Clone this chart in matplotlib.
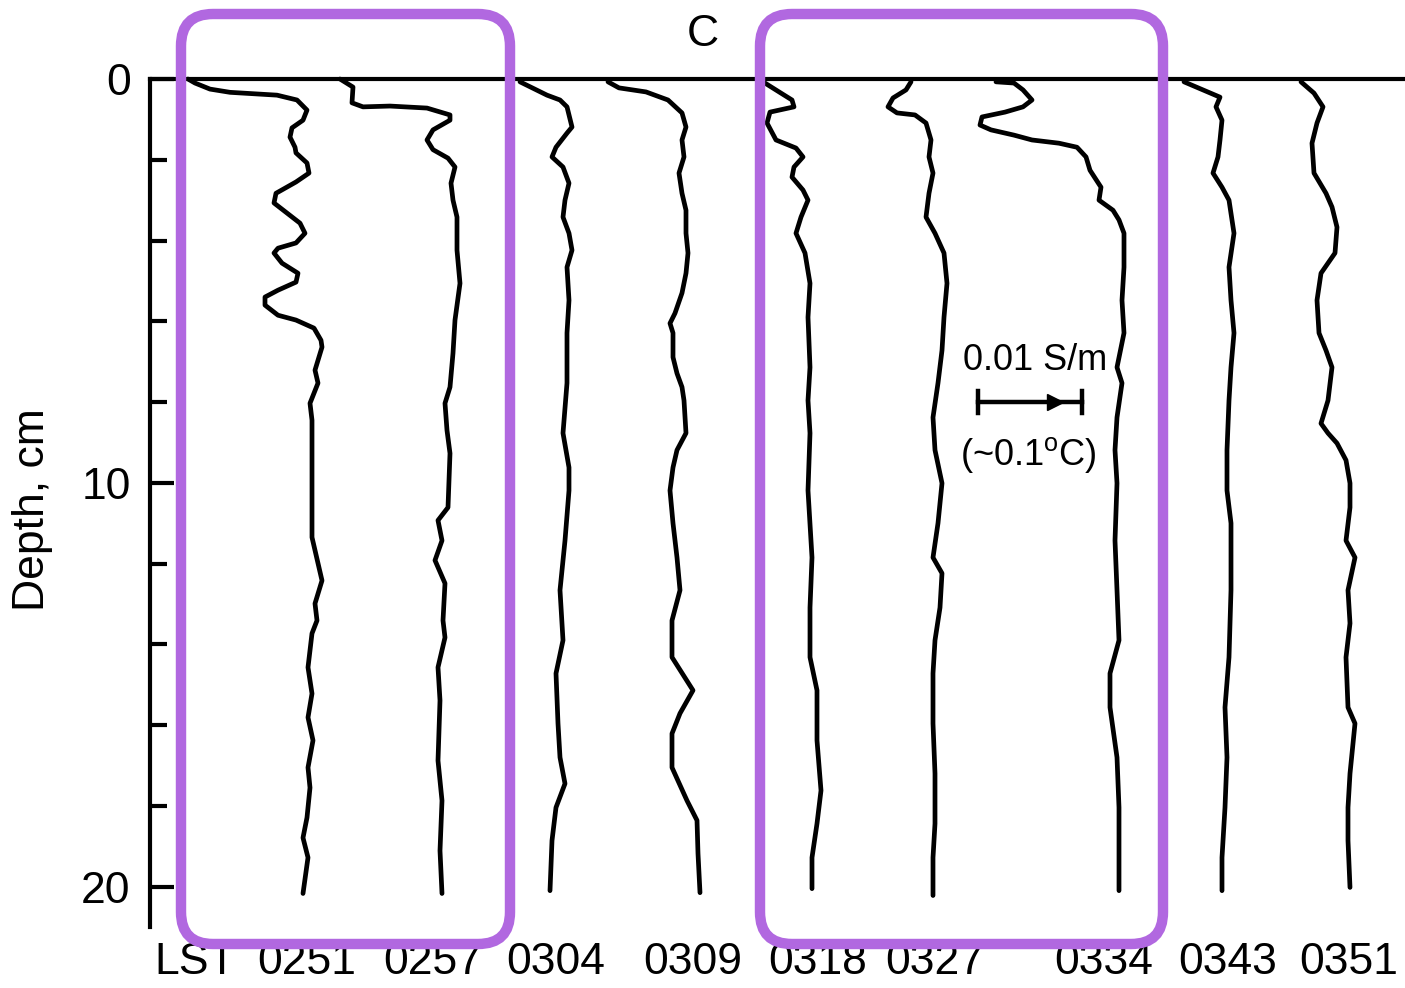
import matplotlib
matplotlib.use("Agg")
import matplotlib.pyplot as plt
from matplotlib.patches import FancyBboxPatch
from matplotlib.transforms import IdentityTransform

plt.rcParams['font.family'] = ['Liberation Sans', 'DejaVu Sans']

# ---- data: conductivity profiles (x offset units ~1e-4 S/m * 1.04, depth in cm)
labels = ["LST", "0251", "0257", "0304", "0309", "0318", "0327", "0334", "0343", "0351"]
label_x = [45, 157, 283, 406, 543, 668, 785, 954, 1078, 1199]

d_0251 = [0.0, 0.10, 0.25, 0.33, 0.40, 0.52, 0.77, 1.02, 1.21, 1.44, 1.69, 1.83, 2.08, 2.33, 2.55, 2.83, 3.07, 3.32, 3.57, 3.82,
          4.06, 4.19, 4.31, 4.56, 4.81, 5.03, 5.23, 5.40, 5.60, 5.85, 5.97, 6.17, 6.47, 6.64, 7.21, 7.53, 8.03, 8.45,
          10.51, 11.35, 12.42, 12.99, 13.41, 13.73, 14.57, 15.22, 15.81, 16.38, 17.05, 17.55, 18.29, 18.79, 19.28, 20.17]
c_0251 = [38, 45, 60, 80, 127, 147, 157, 153, 142, 140, 145, 146, 157, 159, 146, 126, 124, 137, 150, 155,
          146, 128, 124, 132, 148, 146, 128, 115, 115, 128, 146, 164, 171, 172, 165, 168, 160, 162,
          162, 162, 172, 165, 167, 162, 158, 162, 158, 163, 158, 160, 157, 153, 158, 153]

d_0257 = [0.0, 0.20, 0.59, 0.69, 0.67, 0.72, 0.89, 1.02, 1.26, 1.51, 1.75, 1.96, 2.18, 2.58, 3.00, 3.42, 4.24, 5.06, 5.97,
          6.79, 7.63, 8.03, 8.70, 9.27, 10.61, 10.93, 11.43, 11.92, 12.49, 13.41, 13.83, 14.57, 15.39, 16.88, 17.87,
          19.11, 20.17]
c_0257 = [190, 203, 202, 213, 240, 277, 300, 300, 283, 277, 283, 298, 305, 301, 303, 307, 307, 310, 305,
          303, 300, 295, 297, 300, 298, 288, 292, 285, 295, 293, 295, 288, 290, 288, 292,
          290, 292]

d_0304 = [0.07, 0.40, 0.52, 0.69, 1.19, 1.34, 1.69, 1.93, 2.18, 2.58, 3.00, 3.42, 3.82, 4.24, 4.66, 5.48, 6.29, 7.53,
          8.77, 9.62, 10.19, 11.43, 12.66, 13.90, 14.72, 15.96, 16.80, 17.45, 18.04, 18.86, 20.10]
c_0304 = [370, 397, 410, 417, 422, 417, 406, 402, 413, 419, 415, 413, 419, 422, 417, 419, 417, 417,
          413, 419, 419, 415, 410, 413, 406, 408, 410, 415, 406, 402, 400]

d_0309 = [0.07, 0.22, 0.32, 0.52, 0.84, 1.19, 1.51, 1.93, 2.33, 2.83, 3.25, 3.82, 4.31, 4.81, 5.30, 5.80, 6.05, 6.29,
          6.89, 7.29, 7.63, 7.96, 8.77, 9.19, 9.62, 10.19, 11.00, 11.85, 12.66, 13.41, 14.32, 15.14, 15.71, 16.21,
          17.05, 17.87, 18.36, 19.18, 20.15]
c_0309 = [458, 469, 496, 518, 532, 536, 532, 534, 529, 532, 536, 536, 538, 536, 532, 525, 520, 523,
          523, 527, 532, 534, 536, 527, 523, 520, 523, 527, 530, 522, 522, 543, 530, 522,
          522, 537, 547, 548, 550]

d_0318 = [0.07, 0.35, 0.52, 0.69, 0.82, 1.09, 1.51, 1.71, 1.93, 2.18, 2.43, 2.75, 3.00, 3.42, 3.82, 4.31, 5.06, 5.90,
          7.14, 7.96, 8.77, 10.19, 11.85, 13.09, 14.32, 15.14, 16.38, 17.62, 18.44, 19.28, 20.05]
c_0318 = [613, 631, 642, 644, 620, 617, 626, 646, 653, 644, 642, 653, 658, 651, 646, 655, 660, 658,
          660, 658, 660, 658, 662, 660, 660, 667, 667, 671, 667, 662, 662]

d_0327 = [0.07, 0.27, 0.47, 0.69, 0.84, 0.89, 1.09, 1.51, 1.93, 2.33, 2.83, 3.42, 3.82, 4.31, 5.06, 5.90, 6.72, 7.53,
          8.38, 9.19, 10.01, 11.00, 11.85, 12.24, 13.09, 13.90, 14.72, 15.96, 17.20, 18.44, 19.28, 20.22]
c_0327 = [761, 756, 743, 738, 747, 765, 776, 781, 779, 783, 779, 776, 785, 794, 797, 794, 792, 788,
          783, 785, 792, 788, 783, 792, 790, 785, 783, 783, 785, 785, 783, 783]

d_0334 = [0.07, 0.10, 0.27, 0.52, 0.69, 0.82, 0.94, 1.14, 1.26, 1.39, 1.51, 1.59, 1.69, 1.93, 2.26, 2.68, 3.00, 3.25,
          3.49, 3.82, 4.66, 5.48, 6.29, 7.14, 7.53, 8.38, 9.19, 10.01, 11.43, 12.66, 13.90, 14.72, 15.56, 16.80,
          18.04, 19.28, 20.10]
c_0334 = [846, 864, 873, 882, 873, 855, 832, 830, 841, 864, 882, 909, 927, 936, 940, 951, 949, 963,
          969, 974, 974, 972, 974, 967, 972, 967, 965, 967, 965, 967, 969, 960, 960, 967,
          969, 969, 969]

d_0343 = [0.07, 0.45, 0.69, 1.02, 1.51, 1.93, 2.33, 2.68, 3.00, 3.82, 4.66, 5.48, 6.29, 7.14, 7.96, 9.19, 10.19,
          11.00, 12.66, 14.32, 15.56, 16.80, 18.04, 19.28, 20.10]
c_0343 = [1034, 1070, 1066, 1072, 1070, 1068, 1063, 1072, 1079, 1084, 1079, 1081, 1084, 1081, 1079, 1077, 1077,
          1081, 1081, 1079, 1075, 1077, 1075, 1072, 1072]

d_0351 = [0.07, 0.35, 0.69, 1.09, 1.59, 2.33, 2.83, 3.17, 3.67, 4.31, 4.81, 5.48, 6.29, 6.72, 7.14, 7.96, 8.53, 8.77,
          9.02, 9.44, 10.01, 10.61, 11.43, 11.85, 12.66, 13.48, 14.32, 15.56, 15.96, 17.20, 18.04, 18.86, 20.02]
c_0351 = [1151, 1164, 1173, 1167, 1162, 1164, 1176, 1182, 1187, 1185, 1171, 1167, 1169, 1176, 1182, 1178, 1171, 1178,
          1187, 1196, 1200, 1200, 1196, 1205, 1198, 1200, 1196, 1198, 1205, 1200, 1198, 1198, 1200]

profiles = [(d_0251, c_0251), (d_0257, c_0257), (d_0304, c_0304), (d_0309, c_0309), (d_0318, c_0318),
            (d_0327, c_0327), (d_0334, c_0334), (d_0343, c_0343), (d_0351, c_0351)]

# scale bar: 0.01 S/m spans 104 x-units
bar_x0, bar_x1, bar_depth = 828, 932, 8.0

W, H = 1405, 988
fig = plt.figure(figsize=(W / 100, H / 100), dpi=100)
ax = fig.add_axes([150 / W, 1 - 927 / H, 1255 / W, 848 / H])
ax.set_xlim(0, 1255)
ax.set_ylim(21, 0)

for d, c in profiles:
    ax.plot(c, d, color='black', lw=3.4, solid_joinstyle='round', solid_capstyle='round', clip_on=False)

for side in ['right', 'bottom']:
    ax.spines[side].set_visible(False)
for side in ['top', 'left']:
    ax.spines[side].set_linewidth(3.0)

ax.set_yticks([0, 10, 20])
ax.set_yticklabels(['0', '10', '20'])
ax.set_yticks([2, 4, 6, 8, 12, 14, 16, 18], minor=True)
ax.tick_params(axis='y', which='major', direction='in', length=17, width=3, labelsize=32, pad=14)
ax.tick_params(axis='y', which='minor', direction='in', length=12, width=3)
ax.set_xticks(label_x)
ax.set_xticklabels(labels)
ax.tick_params(axis='x', which='both', length=0, labelsize=32, pad=11)
ax.xaxis.set_minor_locator(matplotlib.ticker.NullLocator())

ax.set_ylabel('Depth, cm', fontsize=32)
ax.yaxis.label.set_va('center')
ax.yaxis.set_label_coords(-117 / 1255, (927 - 510) / 848)

# scale bar
ax.plot([bar_x0, bar_x1], [bar_depth, bar_depth], color='black', lw=3.2, clip_on=False)
ax.plot([bar_x0, bar_x0], [bar_depth - 0.28, bar_depth + 0.28], color='black', lw=3.2)
ax.plot([bar_x1, bar_x1], [bar_depth - 0.28, bar_depth + 0.28], color='black', lw=3.2)
ax.plot([905], [bar_depth], marker='>', markersize=11, color='black')
ax.text(885, 6.96, '0.01 S/m', fontsize=26, ha='center', va='center')
ax.text(878, 9.3, r'(~0.1$^{\mathregular{o}}$C)', fontsize=26, ha='center', va='center')

fig.text(703 / W, 1 - 35 / H, 'C', fontsize=32, ha='center', va='center')

# purple highlight boxes (display pixel coordinates)
purple = '#B168E0'
for (x0, x1) in [(181, 510), (760, 1163)]:
    y_top, y_bot = H - 14, H - 944
    box = FancyBboxPatch((x0 + 32, y_bot + 32), (x1 - x0) - 64, (y_top - y_bot) - 64,
                         boxstyle='round,pad=32', transform=IdentityTransform(),
                         fill=False, edgecolor=purple, linewidth=7.5, zorder=10)
    fig.patches.append(box)

fig.savefig('out.png', dpi=100)
